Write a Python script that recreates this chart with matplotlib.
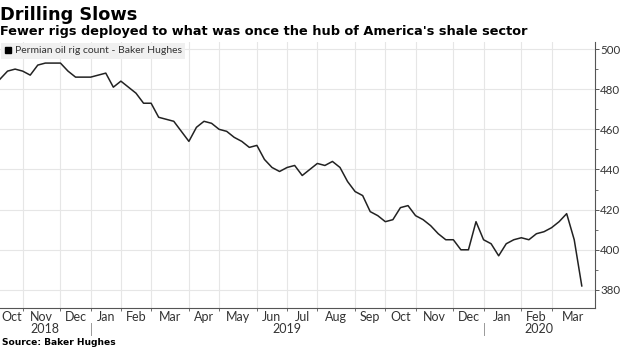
import numpy as np
import matplotlib
matplotlib.use("Agg")
import matplotlib.pyplot as plt
from matplotlib.lines import Line2D
import matplotlib.transforms as mtrans

# weekly Permian oil rig count (Baker Hughes), Oct 2018 - Mar 2020
rigs = [485, 489, 490, 489, 487, 492, 493, 493, 493, 489,
        486, 486, 486, 487, 488, 481, 484, 481, 478, 473,
        473, 466, 465, 464, 459, 454, 461, 464, 463, 460,
        459, 456, 454, 451, 452, 445, 441, 439, 441, 442,
        437, 440, 443, 442, 444, 441, 434, 429, 427, 419,
        417, 414, 415, 421, 422, 417, 415, 412, 408, 405,
        405, 400, 400, 414, 405, 403, 397, 403, 405, 406,
        405, 408, 409, 411, 414, 418, 405, 382]

# week index of the first report in each month
month_starts = [3, 8, 12, 16, 20, 25, 29, 34, 38, 42, 47, 51, 55, 60, 64, 69, 73]
month_names = ["Oct", "Nov", "Dec", "Jan", "Feb", "Mar", "Apr", "May", "Jun",
               "Jul", "Aug", "Sep", "Oct", "Nov", "Dec", "Jan", "Feb", "Mar"]
years = ["2018", "2019", "2020"]
year_starts = [12, 64]   # Jan 2019, Jan 2020

y_ticks = [380, 400, 420, 440, 460, 480, 500]

txt = "#333333"
grid = "#e6e6e6"
small_font = ["Lato", "DejaVu Sans"]

fig = plt.figure(figsize=(6.2, 3.48), dpi=100)
ax = fig.add_axes([0.0, 1 - 308 / 348, 595 / 620, 266 / 348])

x = np.arange(len(rigs))
ax.plot(x, rigs, color="#222222", lw=1.1)

xmax = 78.75
ax.set_xlim(0, xmax)
ax.set_ylim(371, 503.5)

# axes look
for s in ["left", "top"]:
    ax.spines[s].set_visible(False)
for s in ["right", "bottom"]:
    ax.spines[s].set_color("#555555")
    ax.spines[s].set_linewidth(0.8)

ax.yaxis.tick_right()
ax.set_yticks(y_ticks)
ax.set_yticks(np.arange(380, 501, 10), minor=True)
ax.tick_params(axis="y", which="major", length=3, width=0.7, color="#555555",
               labelsize=8.3, labelcolor=txt, pad=0.8)
ax.tick_params(axis="y", which="minor", length=2, width=0.6, color="#555555")
for lab in ax.get_yticklabels():
    lab.set_family(small_font)

ax.set_xticks(month_starts)
ax.set_xticklabels([])
ax.tick_params(axis="x", which="major", length=2, width=0.6, color="#555555")

ax.grid(True, which="major", color=grid, lw=0.8)
ax.set_axisbelow(True)

# month labels centered between gridlines
edges = [0] + month_starts + [xmax]
tr = mtrans.blended_transform_factory(ax.transData, ax.transAxes)
for i, name in enumerate(month_names):
    mid = (edges[i] + edges[i + 1]) / 2
    ax.text(mid, -0.033, name, transform=tr, ha="center", va="center",
            fontsize=9, color=txt, family=small_font)

# year labels and separators
ybounds = [0] + year_starts + [xmax]
for i, yr in enumerate(years):
    mid = (ybounds[i] + ybounds[i + 1]) / 2
    ax.text(mid, -0.08, yr, transform=tr, ha="center", va="center",
            fontsize=9, color=txt, family=small_font)
for ys in year_starts:
    ax.plot([ys, ys], [-0.056, -0.102], transform=tr, color="#999999",
            lw=0.7, clip_on=False)

# legend
h = Line2D([], [], marker="s", color="black", linestyle="none", markersize=5)
leg = ax.legend([h], ["Permian oil rig count - Baker Hughes"], loc="upper left",
                bbox_to_anchor=(0, 1), borderaxespad=0.05,
                prop={"family": small_font, "size": 7.5},
                frameon=True, fancybox=False, handletextpad=0.2,
                handlelength=0.8, borderpad=0.35, labelcolor=txt)
leg.get_frame().set_facecolor("#f0f0f0")
leg.get_frame().set_edgecolor("none")
leg.get_frame().set_alpha(1)

# titles
fig.text(0.0, 1 - 19.5 / 348, "Drilling Slows", fontsize=12.8,
         fontweight="bold", color="black", va="baseline", ha="left")
fig.text(0.0, 1 - 34.5 / 348,
         "Fewer rigs deployed to what was once the hub of America's shale sector",
         fontsize=9.3, fontweight="bold", color="black", va="baseline", ha="left")
fig.text(0.003, 1 - 345 / 348, "Source: Baker Hughes", fontsize=6.6,
         fontweight="bold", color="black", va="baseline", ha="left")

fig.savefig("out.png", dpi=100, facecolor="white")
